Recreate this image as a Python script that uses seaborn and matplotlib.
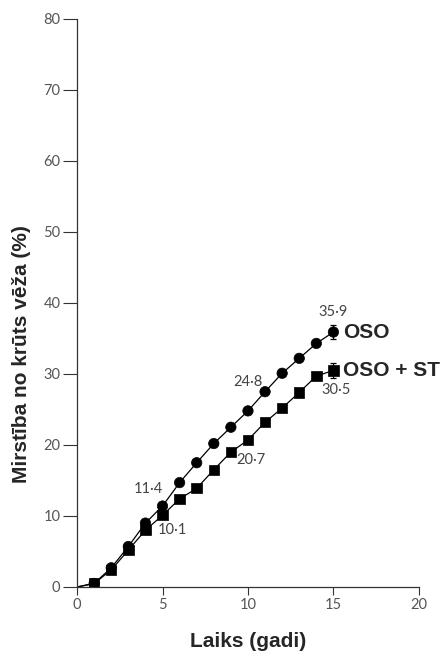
import matplotlib
matplotlib.use("Agg")
import matplotlib.pyplot as plt
import seaborn as sns
import pandas as pd

# Cumulative breast-cancer mortality (%) by years since randomisation
years = list(range(0, 16))
oso = [0.0, 0.5, 2.7, 5.7, 9.0, 11.4, 14.7, 17.5, 20.2, 22.5, 24.8, 27.5, 30.1, 32.2, 34.3, 35.9]
oso_st = [0.0, 0.5, 2.4, 5.2, 8.0, 10.1, 12.4, 13.9, 16.5, 19.0, 20.7, 23.2, 25.2, 27.4, 29.7, 30.5]
groups = ["OSO", "OSO + ST"]
final_err = [1.0, 1.0]

# Values printed beside selected points: (group, year, value)
annotated = [("OSO", 5, 11.4), ("OSO + ST", 5, 10.1),
             ("OSO", 10, 24.8), ("OSO + ST", 10, 20.7),
             ("OSO", 15, 35.9), ("OSO + ST", 15, 30.5)]

xticks = [0, 5, 10, 15, 20]
yticks = [0, 10, 20, 30, 40, 50, 60, 70, 80]

df = pd.DataFrame({
    "year": years * 2,
    "value": oso + oso_st,
    "group": [groups[0]] * len(years) + [groups[1]] * len(years),
})
pts = df[df["year"] > 0]

sns.set_style("white")
fig = plt.figure(figsize=(4.48, 6.52), dpi=100)
ax = fig.add_axes([0.172, 0.0997, 0.763, 0.8713])

sns.lineplot(data=df, x="year", y="value", hue="group",
             palette=["black", "black"], linewidth=0.9, legend=False, ax=ax)
sns.scatterplot(data=pts, x="year", y="value", style="group",
                markers={"OSO": "o", "OSO + ST": "s"}, color="black",
                s=56, edgecolor="black", linewidth=0.5, legend=False, ax=ax, zorder=3)

for g, err in zip(groups, final_err):
    row = df[(df["group"] == g) & (df["year"] == 15)].iloc[0]
    ax.errorbar(row["year"], row["value"], yerr=err, fmt="none",
                ecolor="black", elinewidth=0.9, capsize=2.5, capthick=0.9, zorder=2)

num_font = dict(family=["Lato", "DejaVu Sans"], fontsize=10.5, color="#444444")
# label offsets relative to the annotated point (x, y in data units)
offsets = {
    ("OSO", 5): (-0.85, 2.4),
    ("OSO + ST", 5): (0.55, -2.1),
    ("OSO", 10): (0.0, 4.0),
    ("OSO + ST", 10): (0.2, -2.8),
    ("OSO", 15): (0.0, 2.8),
    ("OSO + ST", 15): (0.15, -2.8),
}
for g, yr, val in annotated:
    dx, dy = offsets[(g, yr)]
    ax.text(yr + dx, val + dy, f"{val:.1f}".replace(".", "·"),
            ha="center", va="center", **num_font)

for g, vals in zip(groups, [oso, oso_st]):
    ax.text(15.55, vals[-1], g, ha="left", va="center",
            fontsize=15, fontweight="bold", family=["Liberation Sans", "DejaVu Sans"])

ax.set_xlim(0, 20)
ax.set_ylim(0, 80)
ax.set_xticks(xticks)
ax.set_yticks(yticks)
ax.tick_params(axis="both", which="major", direction="out", width=0.8,
               color="#333333", labelsize=10.5, labelcolor="#555555", pad=2,
               bottom=True, left=True)
ax.tick_params(axis="x", length=6)
ax.tick_params(axis="y", length=10)
for lbl in ax.get_xticklabels() + ax.get_yticklabels():
    lbl.set_family(["Lato", "DejaVu Sans"])
for side in ["top", "right"]:
    ax.spines[side].set_visible(False)
for side in ["left", "bottom"]:
    ax.spines[side].set_color("#333333")
    ax.spines[side].set_linewidth(0.9)
ax.set_clip_on(False)

ax.set_xlabel("Laiks (gadi)", fontsize=15, fontweight="bold",
              family=["Liberation Sans", "DejaVu Sans"], labelpad=14)
ax.set_ylabel("Mirstība no krūts vēža (%)", fontsize=15, fontweight="bold",
              family=["Liberation Sans", "DejaVu Sans"])
ax.yaxis.set_label_coords(-0.135, 0.41)

fig.savefig("out.png", dpi=100)
